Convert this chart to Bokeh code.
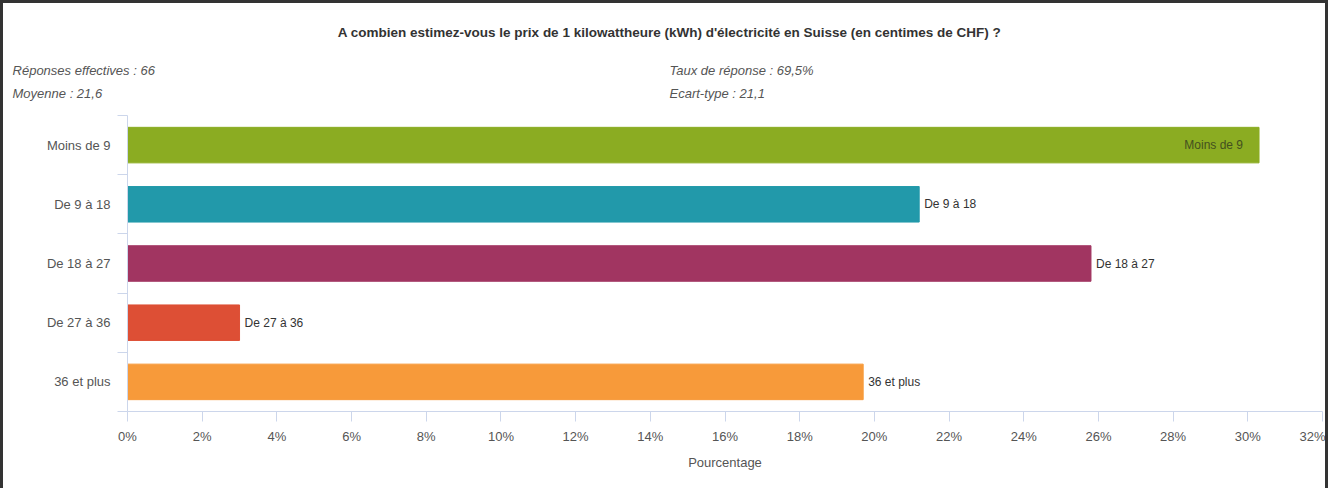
from bokeh.plotting import figure
from bokeh.layouts import column
from bokeh.models import FixedTicker, PrintfTickFormatter, Label, ColumnDataSource, Range1d
from bokeh.core.properties import value
from bokeh.embed import file_html
from bokeh.resources import INLINE

# ---- data ----
categories = ["Moins de 9", "De 9 à 18", "De 18 à 27", "De 27 à 36", "36 et plus"]
percentages = [30.3, 21.2, 25.8, 3.0, 19.7]
colors = ["#8BAC22", "#2299AA", "#A13561", "#DD4F35", "#F79A3A"]
x_ticks = list(range(0, 33, 2))
title_text = ("A combien estimez-vous le prix de 1 kilowattheure (kWh) "
              "d'électricité en Suisse (en centimes de CHF) ?")
stats_left = ["Réponses effectives : 66", "Moyenne : 21,6"]
stats_right = ["Taux de réponse : 69,5%", "Ecart-type : 21,1"]
x_label = "Pourcentage"

FONT = "Liberation Sans"
AXIS_COL = "#ccd6eb"
FRAME = "3px solid #333333"
W = 1328
H_HEAD = 105
H_CHART = 383

# ---- header (title + statistics), pixel-like coordinates ----
hw = W - 6
hh = H_HEAD - 3
head = figure(width=W, height=H_HEAD, x_range=Range1d(0, hw), y_range=Range1d(hh, 0),
              x_axis_type=None, y_axis_type=None, min_border=0,
              output_backend="svg", toolbar_location=None)
head.frame_align = False
head.styles = {"border-top": FRAME, "border-left": FRAME, "border-right": FRAME}
head.outline_line_color = None
head.background_fill_color = "white"
head.border_fill_color = "white"
head.grid.visible = False

head.add_layout(Label(x=hw / 2 + 2, y=28, text=title_text, text_align="center",
                      text_baseline="middle", text_font=FONT,
                      text_font_size="13.5px", text_font_style="bold",
                      text_color="#333333"))
for i, (l, r) in enumerate(zip(stats_left, stats_right)):
    yy = 65 + i * 22
    head.add_layout(Label(x=9, y=yy, text=l, text_align="left",
                          text_baseline="middle", text_font=FONT,
                          text_font_size="13px", text_font_style="italic",
                          text_color="#555555"))
    head.add_layout(Label(x=hw / 2 + 2, y=yy, text=r, text_align="left",
                          text_baseline="middle", text_font=FONT,
                          text_font_size="13px", text_font_style="italic",
                          text_color="#555555"))

# ---- bar chart ----
n = len(categories)
y_centers = [n - i - 0.5 for i in range(n)]
x_max = x_ticks[-1]
inside = [v > 0.9 * x_max for v in percentages]

src = ColumnDataSource(dict(
    y=y_centers, v=percentages, c=colors, cat=categories,
    off=[-16 if f else 5 for f in inside],
    al=["right" if f else "left" for f in inside],
    tc=["#44501f" if f else "#333333" for f in inside],
))

p = figure(width=W, height=H_CHART, x_range=(0, x_max), y_range=(0, n),
           output_backend="svg", toolbar_location=None,
           min_border_left=124, min_border_right=9,
           min_border_top=10, min_border_bottom=77)
p.frame_align = False
p.styles = {"border-left": FRAME, "border-right": FRAME}
p.background_fill_color = "white"
p.border_fill_color = "white"
p.outline_line_color = None
p.xgrid.visible = False
p.ygrid.visible = False

p.hbar(y="y", right="v", left=0, height=0.6, fill_color="c",
       line_color="c", source=src)

p.text(x="v", y="y", text="cat", x_offset="off", text_align="al",
       text_baseline="middle", text_color="tc", text_font=value(FONT),
       text_font_size="12px", source=src)

# x axis
xa = p.xaxis[0]
xa.ticker = FixedTicker(ticks=x_ticks)
xa.formatter = PrintfTickFormatter(format="%d%%")
xa.axis_line_color = AXIS_COL
xa.major_tick_line_color = AXIS_COL
xa.major_tick_out = 10
xa.major_tick_in = 0
xa.minor_tick_line_color = None
xa.major_label_standoff = 7
xa.major_label_text_font = FONT
xa.major_label_text_font_size = "13px"
xa.major_label_text_color = "#555555"
xa.axis_label = x_label
xa.axis_label_text_font = FONT
xa.axis_label_text_font_size = "13px"
xa.axis_label_text_font_style = "normal"
xa.axis_label_text_color = "#555555"
xa.axis_label_standoff = 8

# y axis
ya = p.yaxis[0]
ya.ticker = FixedTicker(ticks=y_centers, minor_ticks=list(range(0, n + 1)))
ya.major_label_overrides = {y: c for y, c in zip(y_centers, categories)}
ya.axis_line_color = AXIS_COL
ya.major_tick_line_color = None
ya.major_tick_out = 10
ya.major_tick_in = 0
ya.minor_tick_line_color = AXIS_COL
ya.minor_tick_out = 10
ya.minor_tick_in = 0
ya.major_label_standoff = 7
ya.major_label_text_font = FONT
ya.major_label_text_font_size = "13px"
ya.major_label_text_color = "#555555"

layout = column(head, p, spacing=0)
open("out.html", "w").write(file_html(layout, INLINE))
